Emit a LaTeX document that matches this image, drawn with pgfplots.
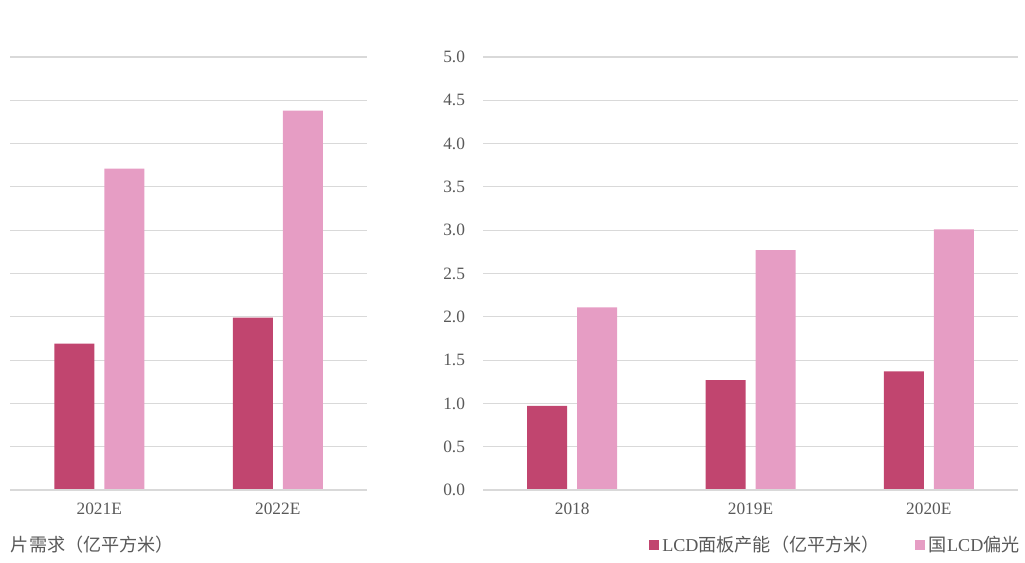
\documentclass[border=0pt]{standalone}
\usepackage{pgfplots}
\pgfplotsset{compat=1.18}
\usepackage{fontspec}
\setmainfont{Liberation Serif}
\newfontfamily\cjk{Noto Sans CJK SC}
\definecolor{darkbar}{HTML}{C1456F}
\definecolor{lightbar}{HTML}{E69DC4}
\definecolor{gridc}{HTML}{D9D9D9}
\definecolor{txt}{HTML}{595959}
\pgfplotsset{
  mybars/.style={
    scale only axis, anchor=south west,
    height=324.75pt,
    ybar=7.5pt, bar width=30pt,
    ymin=0, ymax=5, ytick={0,0.5,...,5.01},
    axis line style={draw=none},
    axis x line*=bottom,
    ymajorgrids, grid style={gridc, line width=0.8pt},
    major tick length=0pt,
    xtick=data,
    tick label style={font=\fontsize{13}{15}\selectfont, text=txt},
    xticklabel style={yshift=-6pt},
    /pgf/number format/assume math mode=true,
    yticklabel style={/pgf/number format/fixed, /pgf/number format/fixed zerofill, /pgf/number format/precision=1},
    every axis plot/.append style={draw=none},
  }
}
\begin{document}
\begin{tikzpicture}
\useasboundingbox (0,0) rectangle (768.75pt,422.25pt);
% left axis
\begin{axis}[mybars, at={(7.5pt,54.75pt)}, width=267.75pt,
  xmin=-0.5, xmax=1.5, xticklabels={2021E,2022E}, yticklabels={}]
\addplot[fill=darkbar] coordinates {(0,1.69) (1,1.99)};
\addplot[fill=lightbar] coordinates {(0,3.71) (1,4.38)};
\draw[gridc, line width=0.8pt] (rel axis cs:0,0) -- (rel axis cs:1,0);
\end{axis}
% right axis
\begin{axis}[mybars, at={(362.25pt,54.75pt)}, width=401.25pt,
  xmin=-0.5, xmax=2.5, xticklabels={2018,2019E,2020E},
  yticklabel style={xshift=-10pt}]
\addplot[fill=darkbar] coordinates {(0,0.97) (1,1.27) (2,1.37)};
\addplot[fill=lightbar] coordinates {(0,2.11) (1,2.77) (2,3.01)};
\draw[gridc, line width=0.8pt] (rel axis cs:0,0) -- (rel axis cs:1,0);
\end{axis}
% legend fragments
\node[anchor=west, text=txt, font=\cjk\fontsize{13.6}{15}\selectfont, inner sep=0pt] at (8pt,13.5pt) {片需求（亿平方米）};
\fill[darkbar] (486.5pt,9.5pt) rectangle (494.5pt,17.5pt);
\node[anchor=west, text=txt, inner sep=0pt, font=\fontsize{13.6}{15}\selectfont] at (496.5pt,13.5pt) {LCD{\cjk 面板产能（亿平方米）}};
\fill[lightbar] (686pt,9.5pt) rectangle (694pt,17.5pt);
\node[anchor=west, text=txt, inner sep=0pt, font=\fontsize{13.6}{15}\selectfont] at (696.5pt,13.5pt) {{\cjk 国}LCD{\cjk 偏光}};
\end{tikzpicture}
\end{document}
